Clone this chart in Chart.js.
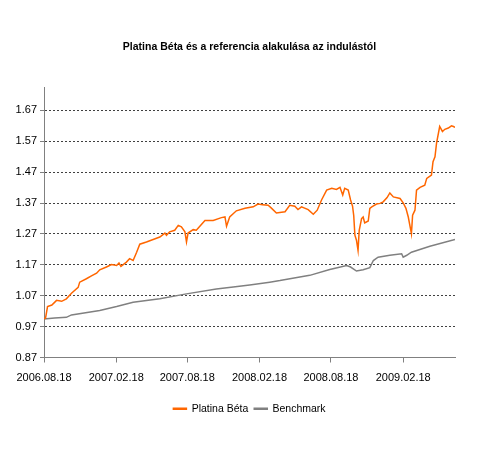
<!DOCTYPE html>
<html>
<head>
<meta charset="utf-8">
<script src="https://cdn.jsdelivr.net/npm/chart.js@4/dist/chart.umd.min.js"></script>
<style>
  html, body { margin: 0; padding: 0; background: #ffffff; }
  #wrap { width: 480px; height: 451px; position: relative; }
</style>
</head>
<body>
<div id="wrap"><canvas id="c" width="480" height="451"></canvas></div>
<script>
const chartTitle = 'Platina Béta és a referencia alakulása az indulástól';
const seriesNames = ['Platina Béta', 'Benchmark'];
const launchDate = '2006.08.18';
const tickLabels = ['2006.08.18', '2007.02.18', '2007.08.18', '2008.02.18', '2008.08.18', '2009.02.18'];
const yTickValues = [0.87, 0.97, 1.07, 1.17, 1.27, 1.37, 1.47, 1.57, 1.67];
const lastDay = 1047; // about 2009.06.30

// Platina Béta: days since launch / value
const platinaDays = [0, 4, 9, 20, 32, 45, 57, 70, 87, 91, 108, 122, 134, 142, 159, 172, 185, 191, 196, 210,
  218, 227, 236, 244, 261, 278, 295, 308, 312, 320, 333, 342, 350, 359, 363, 367, 380, 388, 397, 410,
  431, 452, 461, 465, 473, 490, 512, 533, 545, 557, 571, 580, 592, 614, 626, 639, 647, 656, 673, 686,
  696, 707, 720, 733, 745, 754, 761, 766, 775, 781, 786, 789, 792, 796, 800, 803, 809, 813, 817, 826,
  830, 835, 847, 856, 864, 874, 881, 890, 907, 915, 922, 928, 932, 936, 939, 945, 949, 958, 970, 975,
  987, 991, 996, 1000, 1008, 1015, 1021, 1030, 1038, 1043, 1047];
const platinaValues = [0.995, 0.998, 1.035, 1.04, 1.055, 1.052, 1.06, 1.078, 1.097, 1.114, 1.125, 1.135, 1.143, 1.154, 1.163, 1.171, 1.168, 1.176, 1.165, 1.179,
  1.19, 1.184, 1.211, 1.237, 1.244, 1.252, 1.26, 1.273, 1.266, 1.277, 1.282, 1.298, 1.293, 1.277, 1.244, 1.273, 1.284, 1.282, 1.295, 1.314,
  1.314, 1.323, 1.325, 1.295, 1.325, 1.345, 1.353, 1.358, 1.367, 1.365, 1.363, 1.353, 1.338, 1.342, 1.363, 1.36, 1.349, 1.358, 1.349, 1.334,
  1.347, 1.38, 1.412, 1.418, 1.414, 1.421, 1.396, 1.418, 1.412, 1.38, 1.36, 1.33, 1.266, 1.25, 1.217, 1.282, 1.32, 1.325, 1.306, 1.312,
  1.353, 1.358, 1.367, 1.369, 1.374, 1.388, 1.403, 1.39, 1.385, 1.371, 1.353, 1.325, 1.298, 1.271, 1.331, 1.347, 1.412, 1.421, 1.428, 1.45,
  1.461, 1.504, 1.52, 1.564, 1.618, 1.602, 1.609, 1.613, 1.62, 1.618, 1.615];

// Benchmark: days since launch / value
const benchDays = [0, 27, 57, 70, 142, 185, 227, 295, 363, 439, 482, 524, 575, 601, 677, 728, 771, 781, 796, 813,
  830, 839, 851, 881, 911, 915, 924, 936, 983, 1047];
const benchValues = [0.995, 0.998, 1.0, 1.008, 1.022, 1.035, 1.049, 1.06, 1.076, 1.092, 1.098, 1.105, 1.114, 1.119, 1.136, 1.155, 1.168, 1.163, 1.15, 1.154,
  1.161, 1.184, 1.195, 1.201, 1.206, 1.195, 1.201, 1.211, 1.23, 1.252];

function parseDay(s) {
  const p = s.split('.').map(Number);
  return Date.UTC(p[0], p[1] - 1, p[2]);
}
const DAY = 86400000;
const tickDays = tickLabels.map(s => Math.round((parseDay(s) - parseDay(launchDate)) / DAY));

const FONT = "'Liberation Sans', Arial, sans-serif";

new Chart(document.getElementById('c'), {
  type: 'line',
  data: {
    datasets: [
      {
        label: seriesNames[0],
        data: platinaDays.map((d, i) => ({ x: d, y: platinaValues[i] })),
        borderColor: '#ff6600',
        backgroundColor: '#ff6600',
        borderWidth: 1.5,
        pointRadius: 0,
        tension: 0
      },
      {
        label: seriesNames[1],
        data: benchDays.map((d, i) => ({ x: d, y: benchValues[i] })),
        borderColor: '#808080',
        backgroundColor: '#808080',
        borderWidth: 1.5,
        pointRadius: 0,
        tension: 0
      }
    ]
  },
  options: {
    responsive: false,
    animation: false,
    devicePixelRatio: 1,
    layout: { padding: { left: 44, right: 25, top: 0, bottom: 27 } },
    plugins: {
      title: {
        display: true,
        text: chartTitle,
        color: '#000000',
        font: { family: FONT, size: 10.5, weight: 'bold' },
        padding: { top: 41, bottom: 34 }
      },
      legend: {
        display: true,
        position: 'bottom',
        labels: {
          color: '#000000',
          font: { family: FONT, size: 10.5 },
          boxWidth: 13,
          boxHeight: 1,
          padding: 6
        }
      },
      tooltip: { enabled: false }
    },
    scales: {
      x: {
        type: 'linear',
        min: 0,
        max: lastDay,
        afterBuildTicks: axis => { axis.ticks = tickDays.map(v => ({ value: v })); },
        afterFit: axis => { axis.height = 40; },
        ticks: {
          autoSkip: false,
          maxRotation: 0,
          color: '#000000',
          font: { family: FONT, size: 11 },
          padding: 9,
          callback: function (value) {
            const i = tickDays.indexOf(value);
            return i >= 0 ? tickLabels[i] : '';
          }
        },
        grid: { drawOnChartArea: false, drawTicks: true, tickLength: 5, color: '#808080' },
        border: { display: true, color: '#808080', width: 1 }
      },
      y: {
        type: 'linear',
        min: 0.87,
        max: 1.744,
        afterBuildTicks: axis => { axis.ticks = yTickValues.map(v => ({ value: v })); },
        afterFit: axis => {
          axis.width = 0;
          axis._computeLabelArea = function () { return undefined; };
        },
        ticks: {
          color: '#000000',
          font: { family: FONT, size: 11 },
          padding: 3,
          callback: v => Number(v).toFixed(2)
        },
        grid: {
          color: '#404040',
          lineWidth: 1,
          tickLength: 4,
          tickColor: '#808080',
          tickBorderDash: [],
          drawTicks: true
        },
        border: { display: true, color: '#808080', width: 1, dash: [2, 2] }
      }
    }
  }
});
</script>
</body>
</html>
